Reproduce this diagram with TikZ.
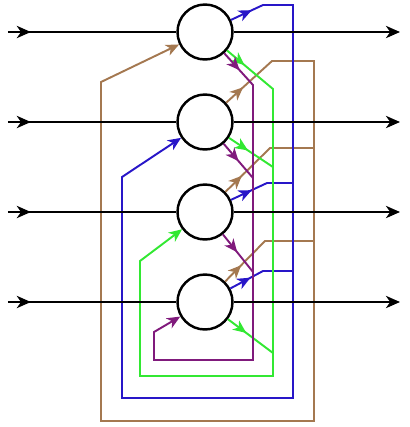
\documentclass[tikz,border=0pt]{standalone}
\usepackage{tikz}
\usetikzlibrary{arrows.meta,decorations.markings}
\definecolor{hopblue}{RGB}{40,22,200}
\definecolor{hopgreen}{RGB}{50,232,50}
\definecolor{hoppurple}{RGB}{128,26,124}
\definecolor{hopbrown}{RGB}{164,120,80}
\begin{document}
\begin{tikzpicture}[x=0.02cm,y=-0.02cm,
    neuron/.style={circle,draw=black,line width=1.4pt,fill=white,minimum size=1.1cm,inner sep=0pt},
    axon/.style={line width=1.2pt},
    wire/.style={line width=1.1pt},
    intip/.style={-{Stealth[length=7.5pt,width=6.5pt,inset=2.2pt]}},
    outtip/.style={postaction={decorate},decoration={markings,
        mark=at position 13pt with {\arrow{Stealth[length=7.5pt,width=6.5pt,inset=2.2pt]}}}},
    feed/.style={postaction={decorate},decoration={markings,
        mark=at position 13pt with {\arrow{Stealth[length=8pt,width=7pt,inset=2.4pt]}}}}]
    \useasboundingbox (0,0) rectangle (410,427);
    \node[neuron] (n1) at (205,32) {};
    \node[neuron] (n2) at (205,122) {};
    \node[neuron] (n3) at (205,212) {};
    \node[neuron] (n4) at (205,302) {};
    \coordinate (x1) at (8,32);
    \coordinate (x2) at (8,122);
    \coordinate (x3) at (8,212);
    \coordinate (x4) at (8,302);
    \coordinate (y1) at (400,32);
    \coordinate (y2) at (400,122);
    \coordinate (y3) at (400,212);
    \coordinate (y4) at (400,302);
    \draw [wire,hopbrown,outtip,intip] (n2) -- (272,61) -- (314,61) -- (314,421) -- (101,421) -- (101,82) -- (n1);
    \draw [wire,hopbrown,outtip] (n3) -- (270,148) -- (314,148);
    \draw [wire,hopbrown,outtip] (n4) -- (265,241) -- (314,241);
    \draw [wire,hopblue,outtip,intip] (n1) -- (263,5) -- (293,5) -- (293,398) -- (122,398) -- (122,177) -- (n2);
    \draw [wire,hopblue,outtip] (n3) -- (267,183) -- (293,183);
    \draw [wire,hopblue,outtip] (n4) -- (263,271) -- (293,271);
    \draw [wire,hopgreen,outtip,intip] (n1) -- (273,89) -- (273,376) -- (140,376) -- (140,261) -- (n3);
    \draw [wire,hopgreen,outtip] (n2) -- (273,167);
    \draw [wire,hopgreen,outtip] (n4) -- (273,353);
    \draw [wire,hoppurple,outtip,intip] (n1) -- (253,85) -- (253,360) -- (154,360) -- (154,332) -- (n4);
    \draw [wire,hoppurple,outtip] (n2) -- (253,178);
    \draw [wire,hoppurple,outtip] (n3) -- (253,272);
    \draw [axon,feed] (x1) -- (n1);
    \draw [axon,feed] (x2) -- (n2);
    \draw [axon,feed] (x3) -- (n3);
    \draw [axon,feed] (x4) -- (n4);
    \draw [axon,-{Stealth[length=8pt,width=7pt,inset=2.4pt]}] (n1) -- (y1);
    \draw [axon,-{Stealth[length=8pt,width=7pt,inset=2.4pt]}] (n2) -- (y2);
    \draw [axon,-{Stealth[length=8pt,width=7pt,inset=2.4pt]}] (n3) -- (y3);
    \draw [axon,-{Stealth[length=8pt,width=7pt,inset=2.4pt]}] (n4) -- (y4);
\end{tikzpicture}
\end{document}
